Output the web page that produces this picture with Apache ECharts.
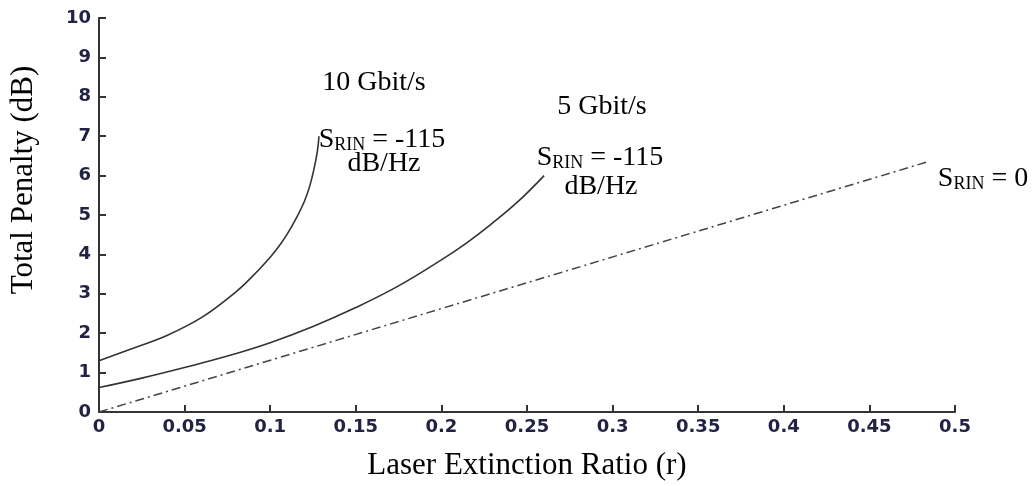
<!DOCTYPE html>
<html lang="en">
<head>
  <meta charset="UTF-8">
  <title>Total Penalty vs Laser Extinction Ratio</title>
  <style>
    html,body{margin:0;padding:0;background:#fff;}
    #main{width:1036px;height:486px;}
  </style>
</head>
<body>
  <div id="main"></div>
  <script src="https://cdn.jsdelivr.net/npm/echarts@6/dist/echarts.min.js"></script>
  <script>
    // values
    const xTickLabels=['0','0.05','0.1','0.15','0.2','0.25','0.3','0.35','0.4','0.45','0.5'];
    const yTickLabels=['0','1','2','3','4','5','6','7','8','9','10'];

    // 10 Gbit/s, S_RIN = -115 dB/Hz
    const r10=[0,0.02,0.04,0.06,0.08,0.09,0.1,0.105,0.11,0.115,0.12,0.123,0.1255,0.1275,0.1285];
    const p10=[1.3,1.62,1.95,2.4,3.05,3.46,3.93,4.2,4.52,4.9,5.35,5.72,6.15,6.6,7.0];

    // 5 Gbit/s, S_RIN = -115 dB/Hz
    const r5=[0,0.025,0.05,0.075,0.1,0.125,0.15,0.175,0.2,0.215,0.23,0.245,0.26];
    const p5=[0.62,0.86,1.13,1.42,1.76,2.17,2.65,3.2,3.86,4.3,4.8,5.35,6.0];

    // S_RIN = 0
    const r0=[0,0.484];
    const p0=[0,6.35];

    const pairs=(xs,ys)=>xs.map((x,i)=>[x,ys[i]]);

    const serif='"Liberation Serif","Times New Roman",serif';
    const tickFont='"DejaVu Sans",sans-serif';
    const rich={
      m:{fontFamily:serif,fontSize:28,color:'#000'},
      s:{fontFamily:serif,fontSize:18,color:'#000',verticalAlign:'bottom'}
    };

    function note(text,x,y){
      return {
        type:'text',x:x,y:y,
        style:{text:text,rich:rich,align:'center',verticalAlign:'middle'}
      };
    }

    const chart=echarts.init(document.getElementById('main'));
    const option={
      animation:false,
      backgroundColor:'#fff',
      grid:{left:97.5,right:81,top:18,bottom:74},
      xAxis:{
        type:'value',min:0,max:0.5,interval:0.05,
        name:'Laser Extinction Ratio (r)',
        nameLocation:'middle',nameGap:38,
        nameTextStyle:{fontFamily:serif,fontSize:31,color:'#000'},
        axisLine:{lineStyle:{color:'#333',width:2}},
        axisTick:{inside:true,length:7,lineStyle:{color:'#333',width:2}},
        axisLabel:{
          margin:6,fontFamily:tickFont,fontWeight:'bold',fontSize:18,color:'#222244',
          formatter:v=>xTickLabels[Math.round(v/0.05)]
        },
        splitLine:{show:false}
      },
      yAxis:{
        type:'value',min:0,max:10,interval:1,
        name:'Total Penalty (dB)',
        nameLocation:'middle',nameGap:60,nameRotate:90,
        nameTextStyle:{fontFamily:serif,fontSize:31,color:'#000',padding:[0,0,0,70]},
        axisLine:{show:true,lineStyle:{color:'#333',width:2}},
        axisTick:{show:true,inside:true,length:7,lineStyle:{color:'#333',width:2}},
        axisLabel:{
          margin:8,fontFamily:tickFont,fontWeight:'bold',fontSize:18,color:'#222244',
          formatter:v=>yTickLabels[Math.round(v)]
        },
        splitLine:{show:false}
      },
      series:[
        {
          name:'10 Gbit/s',type:'line',data:pairs(r10,p10),
          smooth:0.4,showSymbol:false,
          lineStyle:{color:'#333',width:1.6}
        },
        {
          name:'5 Gbit/s',type:'line',data:pairs(r5,p5),
          smooth:0.4,showSymbol:false,
          lineStyle:{color:'#333',width:1.6}
        },
        {
          name:'S_RIN = 0',type:'line',data:pairs(r0,p0),
          showSymbol:false,
          lineStyle:{color:'#444',width:1.5,type:[9,4,2,4]}
        }
      ],
      graphic:[
        note('{m|10 Gbit/s}',374,83),
        note('{m|S}{s|RIN}{m| = -115}',382,140),
        note('{m|dB/Hz}',384,164),
        note('{m|5 Gbit/s}',602,107),
        note('{m|S}{s|RIN}{m| = -115}',600,158),
        note('{m|dB/Hz}',601,187),
        note('{m|S}{s|RIN}{m| = 0}',983,179)
      ]
    };
    chart.setOption(option);
  </script>
</body>
</html>
